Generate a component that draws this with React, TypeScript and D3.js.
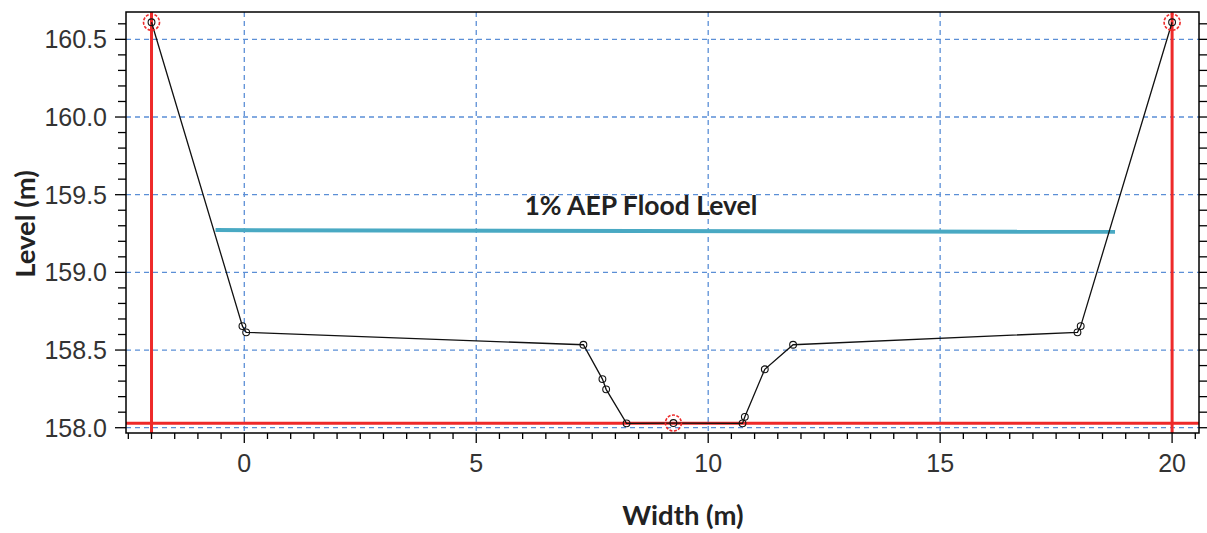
import React from "react";
import * as d3 from "d3";

// Cross-section profile (Width m, Level m)
const profileX = [-2.0, -0.04, 0.04, 7.31, 7.72, 7.8, 8.24, 9.25, 10.74, 10.79, 11.22, 11.83, 17.96, 18.03, 20.0];
const profileY = [160.61, 158.654, 158.614, 158.534, 158.313, 158.247, 158.028, 158.03, 158.028, 158.07, 158.376, 158.534, 158.614, 158.654, 160.61];
// Highlighted (red-circled) points
const keyX = [-2.0, 9.25, 20.0];
const keyY = [160.61, 158.03, 160.61];
// Red reference lines
const redVerticalX = [-2.0, 20.0];
const redHorizontalY = [158.028];
// 1% AEP flood level line
const floodX = [-0.62, 18.77];
const floodY = [159.272, 159.261];
const floodLabel = "1% AEP Flood Level";
// Axis ticks
const xMajorTicks = [0, 5, 10, 15, 20];
const yMajorTicks = [158.0, 158.5, 159.0, 159.5, 160.0, 160.5];
const xTickLabels = ["0", "5", "10", "15", "20"];
const yTickLabels = ["158.0", "158.5", "159.0", "159.5", "160.0", "160.5"];
const xDomain = [-2.55, 20.58];
const yDomain = [157.966, 160.676];

const W = 1207;
const H = 533;
const L = 126, R = 1199, T = 12, B = 433;

export default function App() {
  const x = d3.scaleLinear().domain(xDomain).range([L, R]);
  const y = d3.scaleLinear().domain(yDomain).range([B, T]);

  const xMinor = d3.range(-2.5, 20.51, 0.5);
  const yMinor = d3.range(158.0, 160.61, 0.1).map((v) => Math.round(v * 10) / 10);

  const line = d3
    .line<number>()
    .x((_, i) => x(profileX[i]))
    .y((d) => y(d));
  const flood = d3
    .line<number>()
    .x((_, i) => x(floodX[i]))
    .y((d) => y(d));

  const grid = "#5b8fd6";
  const red = "#ee2a2a";
  const tickFont = "'Liberation Sans', Arial, sans-serif";
  const boldFont = "Lato, 'Open Sans', sans-serif";

  return (
    <svg width={W} height={H} style={{ position: "absolute", left: 0, top: 0, background: "#fff" }}>
      <rect x={0} y={0} width={W} height={H} fill="#fff" />
      {/* grid */}
      {xMajorTicks.map((t) => (
        <line key={"gx" + t} x1={x(t)} x2={x(t)} y1={T} y2={B} stroke={grid} strokeWidth={1.3} strokeDasharray="5,4" />
      ))}
      {yMajorTicks.map((t) => (
        <line key={"gy" + t} x1={L} x2={R} y1={y(t)} y2={y(t)} stroke={grid} strokeWidth={1.3} strokeDasharray="5,4" />
      ))}
      {/* red reference lines */}
      {redHorizontalY.map((v) => (
        <line key={"rh" + v} x1={L} x2={R} y1={y(v)} y2={y(v)} stroke={red} strokeWidth={3} />
      ))}
      {redVerticalX.map((v) => (
        <line key={"rv" + v} x1={x(v)} x2={x(v)} y1={T} y2={B} stroke={red} strokeWidth={3} />
      ))}
      {/* flood level */}
      <path d={flood(floodY) || ""} fill="none" stroke="#49a9c3" strokeWidth={4} />
      <text
        x={x(8.55)}
        y={y(159.368)}
        textAnchor="middle"
        fontFamily={boldFont}
        fontWeight={700}
        fontSize={26.5}
        fill="#222"
      >
        {floodLabel}
      </text>
      {/* profile */}
      <path d={line(profileY) || ""} fill="none" stroke="#111" strokeWidth={1.3} />
      {profileY.map((v, i) => (
        <circle key={"m" + i} cx={x(profileX[i])} cy={y(v)} r={3.4} fill="none" stroke="#111" strokeWidth={1.1} />
      ))}
      {keyY.map((v, i) => (
        <circle key={"k" + i} cx={x(keyX[i])} cy={y(v)} r={8} fill="none" stroke={red} strokeWidth={1.6} strokeDasharray="3,1.5" />
      ))}
      {/* frame */}
      <rect x={L} y={T} width={R - L} height={B - T} fill="none" stroke="#000" strokeWidth={1.5} />
      {/* left ticks */}
      {yMinor.map((t) => {
        const major = yMajorTicks.some((m) => Math.abs(m - t) < 1e-6);
        return (
          <g key={"yt" + t}>
            <line x1={L - (major ? 11 : 8)} x2={L} y1={y(t)} y2={y(t)} stroke="#000" strokeWidth={1.3} />
            <line x1={R} x2={R + 8} y1={y(t)} y2={y(t)} stroke="#000" strokeWidth={1.3} />
          </g>
        );
      })}
      {xMinor.map((t) => {
        const major = xMajorTicks.some((m) => Math.abs(m - t) < 1e-6);
        return (
          <line key={"xt" + t} x1={x(t)} x2={x(t)} y1={B} y2={B + (major ? 10 : 6)} stroke="#000" strokeWidth={1.3} />
        );
      })}
      {/* tick labels */}
      {yMajorTicks.map((t, i) => (
        <text key={"yl" + t} x={107} y={y(t) + 9} textAnchor="end" fontFamily={tickFont} fontSize={25} fill="#333">
          {yTickLabels[i]}
        </text>
      ))}
      {xMajorTicks.map((t, i) => (
        <text key={"xl" + t} x={x(t)} y={472} textAnchor="middle" fontFamily={tickFont} fontSize={25} fill="#333">
          {xTickLabels[i]}
        </text>
      ))}
      {/* axis titles */}
      <text x={683} y={525} textAnchor="middle" fontFamily={boldFont} fontWeight={700} fontSize={27.5} fill="#222">
        Width (m)
      </text>
      <text
        transform={`translate(35,224) rotate(-90)`}
        textAnchor="middle"
        fontFamily={boldFont}
        fontWeight={700}
        fontSize={27.5}
        fill="#222"
      >
        Level (m)
      </text>
    </svg>
  );
}
